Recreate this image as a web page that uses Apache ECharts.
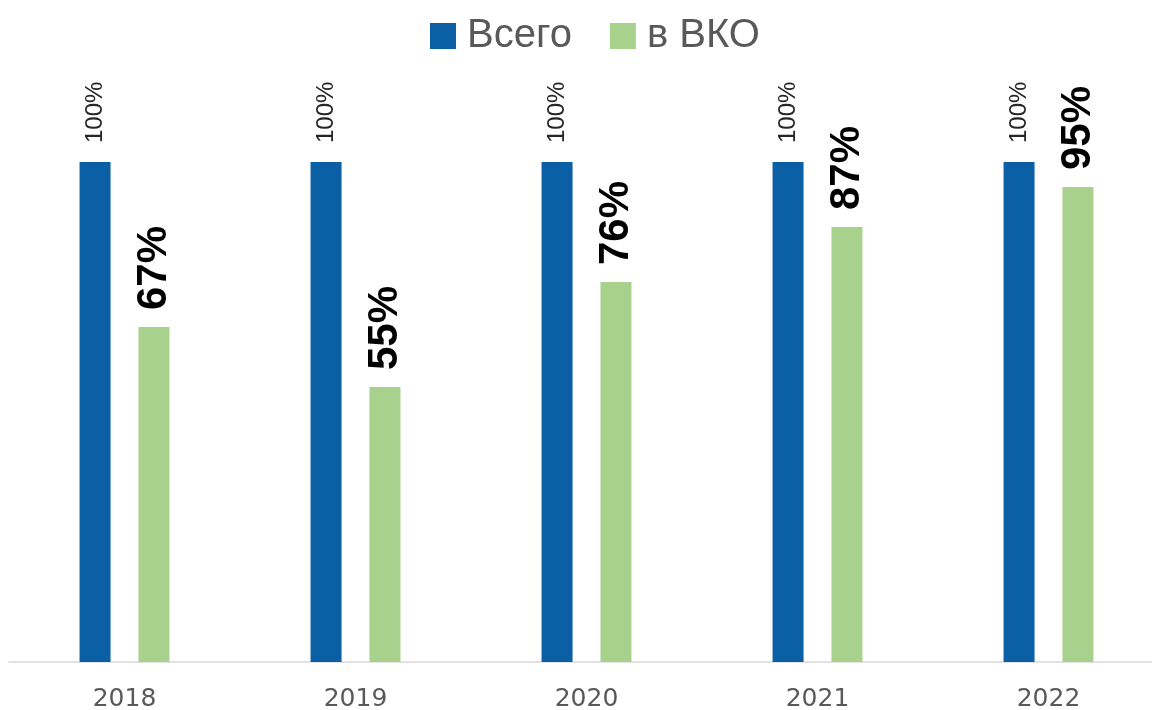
<!DOCTYPE html>
<html lang="ru">
<head>
    <meta charset="UTF-8">
    <script src="https://cdn.jsdelivr.net/npm/echarts@6/dist/echarts.min.js"></script>
    <title>Всего / в ВКО</title>
    <style>
        html, body { margin: 0; padding: 0; background: #fff; }
        #main { width: 1152px; height: 710px; }
    </style>
</head>
<body>
    <div id="main"></div>
    <script>
        // data
        var years = ['2018', '2019', '2020', '2021', '2022'];
        var totalValues = [100, 100, 100, 100, 100];
        var vkoValues = [67, 55, 76, 87, 95];
        var seriesNames = ['Всего', 'в ВКО'];

        var myChart = echarts.init(document.getElementById('main'));

        var option = {
            animation: false,
            textStyle: { fontFamily: 'Liberation Sans' },
            legend: {
                data: seriesNames,
                left: 425,
                top: 11,
                itemWidth: 26,
                itemHeight: 26,
                itemGap: 38,
                icon: 'rect',
                textStyle: { fontSize: 40, color: '#595959', padding: [0, 0, 0, 6] }
            },
            grid: {
                left: 9,
                right: -12,
                top: 162,
                bottom: 48,
                containLabel: false,
                outerBoundsMode: 'none'
            },
            xAxis: {
                type: 'category',
                data: years,
                axisLine: { lineStyle: { color: '#d9d9d9', width: 1.5 } },
                axisTick: { show: false },
                axisLabel: { fontSize: 25, fontFamily: 'DejaVu Sans', color: '#595959', margin: 25 }
            },
            yAxis: {
                type: 'value',
                min: 0,
                max: 100,
                show: false,
                splitLine: { show: false }
            },
            series: [
                {
                    name: seriesNames[0],
                    type: 'bar',
                    data: totalValues,
                    barWidth: 31,
                    barGap: '90%',
                    itemStyle: { color: '#0b5fa5' },
                    label: {
                        show: true,
                        position: 'top',
                        rotate: 90,
                        align: 'left',
                        verticalAlign: 'middle',
                        distance: 19,
                        fontSize: 24,
                        color: '#262626',
                        formatter: '{c}%'
                    }
                },
                {
                    name: seriesNames[1],
                    type: 'bar',
                    data: vkoValues,
                    barWidth: 31,
                    itemStyle: { color: '#a9d18e' },
                    label: {
                        show: true,
                        position: 'top',
                        rotate: 90,
                        align: 'left',
                        verticalAlign: 'middle',
                        distance: 17,
                        fontSize: 42,
                        fontWeight: 'bold',
                        color: '#000',
                        formatter: '{c}%'
                    }
                }
            ]
        };

        myChart.setOption(option);
    </script>
</body>
</html>
